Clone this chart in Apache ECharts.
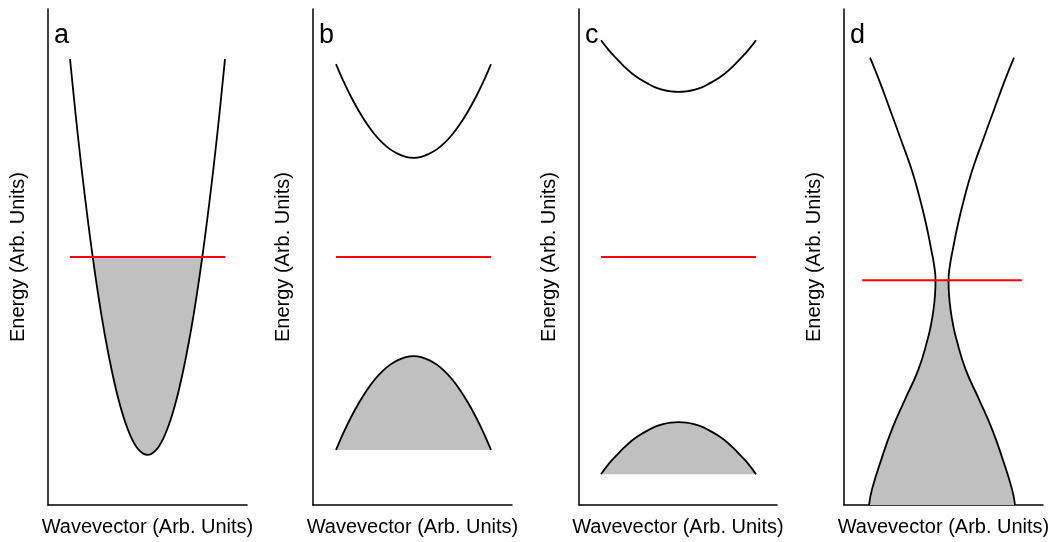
<!DOCTYPE html>
<html>
<head>
<meta charset="utf-8">
<script src="https://cdn.jsdelivr.net/npm/echarts@6/dist/echarts.min.js"></script>
<style>
html,body{margin:0;padding:0;background:#fff;}
#chart{width:1053px;height:542px;}
</style>
</head>
<body>
<div id="chart"></div>
<script>
// ---- data ----
const panelLetters = ['a', 'b', 'c', 'd'];
const yAxisTitle = 'Energy (Arb. Units)';
const xAxisTitle = 'Wavevector (Arb. Units)';

const kGrid = [-1.0, -0.9, -0.8, -0.7, -0.6, -0.5, -0.4, -0.3, -0.2, -0.1, 0, 0.1, 0.2, 0.3, 0.4, 0.5, 0.6, 0.7, 0.8, 0.9, 1.0];

const bandA = [8.99, 7.47, 6.12, 4.92, 3.88, 3.01, 2.29, 1.73, 1.33, 1.09, 1.01, 1.09, 1.33, 1.73, 2.29, 3.01, 3.88, 4.92, 6.12, 7.47, 8.99];

const bandBUpper = [8.89, 8.53, 8.21, 7.93, 7.68, 7.47, 7.30, 7.17, 7.08, 7.02, 7.00, 7.02, 7.08, 7.17, 7.30, 7.47, 7.68, 7.93, 8.21, 8.53, 8.89];
const bandBLower = [1.11, 1.47, 1.79, 2.07, 2.32, 2.53, 2.70, 2.83, 2.92, 2.98, 3.00, 2.98, 2.92, 2.83, 2.70, 2.53, 2.32, 2.07, 1.79, 1.47, 1.11];

const bandCUpper = [9.37, 9.17, 9.00, 8.84, 8.70, 8.59, 8.50, 8.42, 8.37, 8.34, 8.33, 8.34, 8.37, 8.42, 8.50, 8.59, 8.70, 8.84, 9.00, 9.17, 9.37];
const bandCLower = [0.62, 0.83, 1.00, 1.16, 1.30, 1.41, 1.50, 1.58, 1.63, 1.66, 1.67, 1.66, 1.63, 1.58, 1.50, 1.41, 1.30, 1.16, 1.00, 0.83, 0.62];

// panel d: two branches given as wavevector versus energy (top to bottom)
const bandDEnergy = [9.02, 8.57, 7.97, 7.36, 6.76, 6.16, 5.65, 5.15, 4.85, 4.53, 4.25, 3.94, 3.64, 3.34, 2.74, 2.13, 1.53, 0.93, 0.32, 0.00];
const bandDLeftK  = [-0.929, -0.813, -0.671, -0.529, -0.392, -0.283, -0.204, -0.139, -0.104, -0.084, -0.090, -0.110, -0.142, -0.186, -0.303, -0.477, -0.645, -0.781, -0.903, -0.942];
const bandDRightK = [0.929, 0.813, 0.671, 0.529, 0.392, 0.283, 0.204, 0.139, 0.104, 0.084, 0.090, 0.110, 0.142, 0.186, 0.303, 0.477, 0.645, 0.781, 0.903, 0.942];

const fermiLevels = [5.0, 5.0, 5.0, 4.53];
const fermiKStart = [-1.0, -1.0, -1.0, -1.03];
const fermiKEnd   = [1.0, 1.0, 1.0, 1.03];

const xMin = [-1.284, -1.297, -1.284, -1.265];
const xMax = [1.284, 1.271, 1.271, 1.303];
const eMin = 0, eMax = 10;

// ---- build chart ----
const FONT = '"Liberation Sans", Arial, Helvetica, sans-serif';
const gridLefts = [48, 313, 579, 844];
const gridWidths = [199, 199, 198, 199];

const zip = (xs, ys) => xs.map((x, i) => [x, ys[i]]);

const grids = [], xAxes = [], yAxes = [], series = [], graphics = [];

for (let p = 0; p < 4; p++) {
  grids.push({ left: gridLefts[p], top: 9, width: gridWidths[p], height: 497, containLabel: false });
  xAxes.push({
    type: 'value', gridIndex: p, min: xMin[p], max: xMax[p],
    axisLine: { show: true, onZero: false, lineStyle: { color: '#000', width: 1.5 } },
    axisTick: { show: false }, axisLabel: { show: false }, splitLine: { show: false },
    name: xAxisTitle, nameLocation: 'middle', nameGap: 12,
    nameTextStyle: { fontFamily: FONT, fontSize: 20, color: '#000' }
  });
  yAxes.push({
    type: 'value', gridIndex: p, min: eMin, max: eMax,
    axisLine: { show: true, onZero: false, lineStyle: { color: '#000', width: 1.5 } },
    axisTick: { show: false }, axisLabel: { show: false }, splitLine: { show: false },
    name: yAxisTitle, nameLocation: 'middle', nameGap: 20,
    nameTextStyle: { fontFamily: FONT, fontSize: 20, color: '#000' }
  });
  graphics.push({
    type: 'text', left: gridLefts[p] + 6, top: 22,
    style: { text: panelLetters[p], font: '27px ' + FONT, fill: '#000' }
  });
}

// filled polygons (computed from the data arrays)
function belowLevel(points, level) {
  const out = [];
  for (let i = 0; i < points.length; i++) {
    const a = points[i];
    if (a[1] <= level) out.push(a);
    if (i + 1 < points.length) {
      const b = points[i + 1];
      if ((a[1] - level) * (b[1] - level) < 0) {
        const t = (level - a[1]) / (b[1] - a[1]);
        out.push([a[0] + t * (b[0] - a[0]), level]);
      }
    }
  }
  return out;
}
function branchBelow(ks, es, level) {
  const out = [];
  for (let i = 0; i < es.length; i++) {
    if (es[i] <= level) {
      if (i > 0 && es[i - 1] > level) {
        const t = (level - es[i - 1]) / (es[i] - es[i - 1]);
        out.push([ks[i - 1] + t * (ks[i] - ks[i - 1]), level]);
      }
      out.push([ks[i], es[i]]);
    }
  }
  return out;
}

const fillPolys = [
  belowLevel(zip(kGrid, bandA), fermiLevels[0]),
  zip(kGrid, bandBLower),
  zip(kGrid, bandCLower),
  (function () {
    const left = branchBelow(bandDLeftK, bandDEnergy, fermiLevels[3]);
    const right = branchBelow(bandDRightK, bandDEnergy, fermiLevels[3]).reverse();
    return left.concat(right);
  })()
];

fillPolys.forEach((poly, p) => {
  series.push({
    type: 'custom', xAxisIndex: p, yAxisIndex: p, coordinateSystem: 'cartesian2d',
    data: [[0, 0]], encode: { x: 0, y: 1 }, silent: true, z: 1,
    renderItem: function (params, api) {
      return {
        type: 'polygon',
        shape: { points: poly.map(pt => api.coord(pt)) },
        style: { fill: '#c0c0c0', stroke: null }
      };
    }
  });
});

const lineBase = { type: 'line', showSymbol: false, symbol: 'none', silent: true, z: 3,
  lineStyle: { color: '#000', width: 1.8 } };

const curves = [
  [0, zip(kGrid, bandA), 0.4],
  [1, zip(kGrid, bandBUpper), 0.4],
  [1, zip(kGrid, bandBLower), 0.4],
  [2, zip(kGrid, bandCUpper), 0.4],
  [2, zip(kGrid, bandCLower), 0.4],
  [3, zip(bandDLeftK, bandDEnergy), 0.5],
  [3, zip(bandDRightK, bandDEnergy), 0.5]
];
curves.forEach(([p, d, sm]) => {
  series.push(Object.assign({}, lineBase, { xAxisIndex: p, yAxisIndex: p, data: d, smooth: sm }));
});

for (let p = 0; p < 4; p++) {
  series.push({
    type: 'line', xAxisIndex: p, yAxisIndex: p, showSymbol: false, symbol: 'none', silent: true, z: 4,
    lineStyle: { color: '#ff0000', width: 2 },
    data: [[fermiKStart[p], fermiLevels[p]], [fermiKEnd[p], fermiLevels[p]]]
  });
}

const chart = echarts.init(document.getElementById('chart'), null, { renderer: 'canvas' });
chart.setOption({
  animation: false,
  backgroundColor: '#fff',
  grid: grids, xAxis: xAxes, yAxis: yAxes, series: series, graphic: graphics
});
</script>
</body>
</html>
